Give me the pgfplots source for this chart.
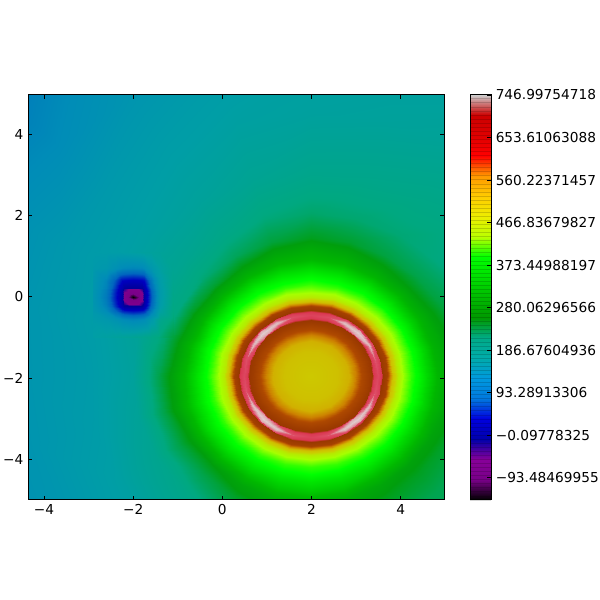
\documentclass[border=0pt]{standalone}
\usepackage{pgfplots}
\usepackage{pgfplotstable}
\usepackage{fontspec}
\setmainfont{DejaVu Sans}
\pgfplotsset{compat=1.18}
\pgfplotsset{
 colormap={mainmap}{
  rgb(0pt)=(0,0,0) rgb(44.5pt)=(.47,0,.53) rgb(89pt)=(.5,0,.55) rgb(133.5pt)=(0,0,.6)
  rgb(178pt)=(0,0,.75) rgb(222.5pt)=(0,.4,.75) rgb(267pt)=(0,.55,.72) rgb(311.5pt)=(0,.62,.65)
  rgb(356pt)=(0,.66,.5) rgb(400.5pt)=(0,.62,.05) rgb(445pt)=(0,.72,0) rgb(489.5pt)=(0,.87,0)
  rgb(534pt)=(0,1,0) rgb(578.5pt)=(.65,1,0) rgb(623pt)=(.8,.8,0) rgb(667.5pt)=(.82,.68,0)
  rgb(712pt)=(.8,.5,0) rgb(756.5pt)=(.7,.3,0) rgb(802.5pt)=(.6,.22,0) rgb(832.5pt)=(.85,.2,.3)
  rgb(862.5pt)=(.87,.3,.4) rgb(877pt)=(.87,.68,.7) rgb(889.5pt)=(.87,.82,.82)},
 colormap={spectral}{
  rgb=(0,0,0) rgb=(.47,0,.53) rgb=(.53,0,.6) rgb=(0,0,.67) rgb=(0,0,.87) rgb=(0,.47,.87)
  rgb=(0,.6,.87) rgb=(0,.67,.67) rgb=(0,.67,.53) rgb=(0,.6,0) rgb=(0,.73,0) rgb=(0,.87,0)
  rgb=(0,1,0) rgb=(.73,1,0) rgb=(.93,.93,0) rgb=(1,.8,0) rgb=(1,.6,0) rgb=(1,0,0)
  rgb=(.87,0,0) rgb=(.8,0,0) rgb=(.8,.8,.8)},
}
\pgfplotstableread{
t r v
0 .01 486
15 .01 486
30 .01 486
45 .01 486
60 .01 486
75 .01 486
90 .01 486
105 .01 486
120 .01 486
135 .01 486
150 .01 486
165 .01 486
180 .01 486
195 .01 486
210 .01 486
225 .01 486
240 .01 486
255 .01 486
270 .01 486
285 .01 486
300 .01 486
315 .01 486
330 .01 486
345 .01 486
360 .01 486
0 .6 498
15 .6 498
30 .6 498
45 .6 498
60 .6 498
75 .6 498
90 .6 498
105 .6 498
120 .6 498
135 .6 498
150 .6 498
165 .6 498
180 .6 498
195 .6 498
210 .6 498
225 .6 498
240 .6 498
255 .6 498
270 .6 498
285 .6 498
300 .6 498
315 .6 498
330 .6 498
345 .6 498
360 .6 498
0 .85 520
15 .85 520
30 .85 520
45 .85 520
60 .85 520
75 .85 520
90 .85 520
105 .85 520
120 .85 520
135 .85 520
150 .85 520
165 .85 520
180 .85 520
195 .85 520
210 .85 520
225 .85 520
240 .85 520
255 .85 520
270 .85 520
285 .85 520
300 .85 520
315 .85 520
330 .85 520
345 .85 520
360 .85 520
0 1 565
15 1 565
30 1 565
45 1 565
60 1 565
75 1 565
90 1 565
105 1 565
120 1 565
135 1 565
150 1 565
165 1 565
180 1 565
195 1 565
210 1 565
225 1 565
240 1 565
255 1 565
270 1 565
285 1 565
300 1 565
315 1 565
330 1 565
345 1 565
360 1 565
0 1.15 625
15 1.15 625
30 1.15 625
45 1.15 625
60 1.15 625
75 1.15 625
90 1.15 625
105 1.15 625
120 1.15 625
135 1.15 625
150 1.15 625
165 1.15 625
180 1.15 625
195 1.15 625
210 1.15 625
225 1.15 625
240 1.15 625
255 1.15 625
270 1.15 625
285 1.15 625
300 1.15 625
315 1.15 625
330 1.15 625
345 1.15 625
360 1.15 625
0 1.3 650
15 1.3 650
30 1.3 650
45 1.3 650
60 1.3 650
75 1.3 650
90 1.3 650
105 1.3 650
120 1.3 650
135 1.3 650
150 1.3 650
165 1.3 650
180 1.3 650
195 1.3 650
210 1.3 650
225 1.3 650
240 1.3 650
255 1.3 650
270 1.3 650
285 1.3 650
300 1.3 650
315 1.3 650
330 1.3 650
345 1.3 650
360 1.3 650
0 1.38 660
15 1.38 660
30 1.38 660
45 1.38 660
60 1.38 660
75 1.38 660
90 1.38 660
105 1.38 660
120 1.38 660
135 1.38 660
150 1.38 660
165 1.38 660
180 1.38 660
195 1.38 660
210 1.38 660
225 1.38 660
240 1.38 660
255 1.38 660
270 1.38 660
285 1.38 660
300 1.38 660
315 1.38 660
330 1.38 660
345 1.38 660
360 1.38 660
0 1.42 697
15 1.42 700
30 1.42 716
45 1.42 732
60 1.42 718
75 1.42 700
90 1.42 697
105 1.42 700
120 1.42 718
135 1.42 732
150 1.42 716
165 1.42 700
180 1.42 697
195 1.42 700
210 1.42 718
225 1.42 732
240 1.42 720
255 1.42 700
270 1.42 697
285 1.42 700
300 1.42 720
315 1.42 732
330 1.42 716
345 1.42 700
360 1.42 697
0 1.5 712
15 1.5 722
30 1.5 738
45 1.5 746
60 1.5 740
75 1.5 718
90 1.5 708
105 1.5 720
120 1.5 740
135 1.5 746
150 1.5 738
165 1.5 720
180 1.5 712
195 1.5 722
210 1.5 740
225 1.5 746
240 1.5 742
255 1.5 722
270 1.5 708
285 1.5 722
300 1.5 742
315 1.5 746
330 1.5 738
345 1.5 720
360 1.5 712
0 1.58 697
15 1.58 700
30 1.58 716
45 1.58 732
60 1.58 718
75 1.58 700
90 1.58 697
105 1.58 700
120 1.58 718
135 1.58 732
150 1.58 716
165 1.58 700
180 1.58 697
195 1.58 700
210 1.58 718
225 1.58 732
240 1.58 720
255 1.58 700
270 1.58 697
285 1.58 700
300 1.58 720
315 1.58 732
330 1.58 716
345 1.58 700
360 1.58 697
0 1.62 660
15 1.62 660
30 1.62 660
45 1.62 660
60 1.62 660
75 1.62 660
90 1.62 660
105 1.62 660
120 1.62 660
135 1.62 660
150 1.62 660
165 1.62 660
180 1.62 660
195 1.62 660
210 1.62 660
225 1.62 660
240 1.62 660
255 1.62 660
270 1.62 660
285 1.62 660
300 1.62 660
315 1.62 660
330 1.62 660
345 1.62 660
360 1.62 660
0 1.72 640
15 1.72 640
30 1.72 640
45 1.72 640
60 1.72 640
75 1.72 640
90 1.72 640
105 1.72 640
120 1.72 640
135 1.72 640
150 1.72 640
165 1.72 640
180 1.72 640
195 1.72 640
210 1.72 640
225 1.72 640
240 1.72 640
255 1.72 640
270 1.72 640
285 1.72 640
300 1.72 640
315 1.72 640
330 1.72 640
345 1.72 640
360 1.72 640
0 1.85 495
15 1.85 495
30 1.85 495
45 1.85 495
60 1.85 495
75 1.85 495
90 1.85 495
105 1.85 495
120 1.85 495
135 1.85 495
150 1.85 495
165 1.85 495
180 1.85 495
195 1.85 495
210 1.85 495
225 1.85 495
240 1.85 495
255 1.85 495
270 1.85 495
285 1.85 495
300 1.85 495
315 1.85 495
330 1.85 495
345 1.85 495
360 1.85 495
0 1.95 455
15 1.95 455
30 1.95 455
45 1.95 455
60 1.95 455
75 1.95 455
90 1.95 455
105 1.95 455
120 1.95 455
135 1.95 455
150 1.95 455
165 1.95 455
180 1.95 455
195 1.95 455
210 1.95 455
225 1.95 455
240 1.95 455
255 1.95 455
270 1.95 455
285 1.95 455
300 1.95 455
315 1.95 455
330 1.95 455
345 1.95 455
360 1.95 455
0 2.1 430
15 2.1 430
30 2.1 430
45 2.1 430
60 2.1 430
75 2.1 430
90 2.1 430
105 2.1 430
120 2.1 430
135 2.1 430
150 2.1 430
165 2.1 430
180 2.1 430
195 2.1 430
210 2.1 430
225 2.1 430
240 2.1 430
255 2.1 430
270 2.1 430
285 2.1 430
300 2.1 430
315 2.1 430
330 2.1 430
345 2.1 430
360 2.1 430
0 2.25 405
15 2.25 405
30 2.25 405
45 2.25 405
60 2.25 405
75 2.25 405
90 2.25 405
105 2.25 405
120 2.25 405
135 2.25 405
150 2.25 405
165 2.25 405
180 2.25 405
195 2.25 405
210 2.25 405
225 2.25 405
240 2.25 405
255 2.25 405
270 2.25 405
285 2.25 405
300 2.25 405
315 2.25 405
330 2.25 405
345 2.25 405
360 2.25 405
0 2.4 385
15 2.4 383
30 2.4 381
45 2.4 380
60 2.4 383
75 2.4 386
90 2.4 388
105 2.4 386
120 2.4 383
135 2.4 380
150 2.4 381
165 2.4 383
180 2.4 385
195 2.4 387
210 2.4 388
225 2.4 388
240 2.4 389
255 2.4 391
270 2.4 392
285 2.4 391
300 2.4 389
315 2.4 388
330 2.4 386
345 2.4 385
360 2.4 385
0 2.6 340
15 2.6 337
30 2.6 335
45 2.6 335
60 2.6 340
75 2.6 346
90 2.6 350
105 2.6 347
120 2.6 340
135 2.6 335
150 2.6 335
165 2.6 338
180 2.6 345
195 2.6 349
210 2.6 350
225 2.6 350
240 2.6 350
255 2.6 352
270 2.6 355
285 2.6 352
300 2.6 348
315 2.6 345
330 2.6 342
345 2.6 340
360 2.6 340
0 2.85 298
15 2.85 292
30 2.85 290
45 2.85 290
60 2.85 296
75 2.85 302
90 2.85 306
105 2.85 301
120 2.85 293
135 2.85 285
150 2.85 285
165 2.85 292
180 2.85 302
195 2.85 307
210 2.85 306
225 2.85 305
240 2.85 310
255 2.85 318
270 2.85 322
285 2.85 318
300 2.85 310
315 2.85 305
330 2.85 302
345 2.85 299
360 2.85 298
0 3.1 280
15 3.1 270
30 3.1 262
45 3.1 258
60 3.1 265
75 3.1 275
90 3.1 282
105 3.1 272
120 3.1 258
135 3.1 245
150 3.1 248
165 3.1 255
180 3.1 265
195 3.1 268
210 3.1 262
225 3.1 258
240 3.1 272
255 3.1 280
270 3.1 282
285 3.1 280
300 3.1 272
315 3.1 265
330 3.1 266
345 3.1 272
360 3.1 280
0 3.4 268
15 3.4 250
30 3.4 240
45 3.4 235
60 3.4 238
75 3.4 245
90 3.4 252
105 3.4 240
120 3.4 228
135 3.4 218
150 3.4 212
165 3.4 222
180 3.4 235
195 3.4 235
210 3.4 235
225 3.4 235
240 3.4 248
255 3.4 260
270 3.4 265
285 3.4 260
300 3.4 254
315 3.4 250
330 3.4 248
345 3.4 255
360 3.4 268
0 4 250
15 4 232
30 4 220
45 4 214
60 4 218
75 4 220
90 4 222
105 4 216
120 4 204
135 4 195
150 4 190
165 4 186
180 4 180
195 4 186
210 4 196
225 4 205
240 4 222
255 4 238
270 4 245
285 4 242
300 4 235
315 4 232
330 4 234
345 4 242
360 4 250
0 5 230
15 5 220
30 5 214
45 5 210
60 5 206
75 5 202
90 5 200
105 5 192
120 5 182
135 5 175
150 5 171
165 5 166
180 5 160
195 5 163
210 5 172
225 5 180
240 5 196
255 5 215
270 5 225
285 5 225
300 5 225
315 5 225
330 5 226
345 5 229
360 5 230
0 6.5 225
15 6.5 212
30 6.5 202
45 6.5 195
60 6.5 188
75 6.5 182
90 6.5 178
105 6.5 174
120 6.5 165
135 6.5 155
150 6.5 151
165 6.5 148
180 6.5 145
195 6.5 145
210 6.5 147
225 6.5 150
240 6.5 170
255 6.5 200
270 6.5 215
285 6.5 218
300 6.5 220
315 6.5 220
330 6.5 222
345 6.5 224
360 6.5 225
0 8 220
15 8 206
30 8 194
45 8 185
60 8 178
75 8 173
90 8 170
105 8 160
120 8 145
135 8 125
150 8 128
165 8 130
180 8 130
195 8 130
210 8 132
225 8 135
240 8 155
255 8 190
270 8 210
285 8 213
300 8 215
315 8 215
330 8 218
345 8 220
360 8 220
0 10.5 215
15 10.5 200
30 10.5 188
45 10.5 180
60 10.5 173
75 10.5 165
90 10.5 160
105 10.5 147
120 10.5 120
135 10.5 92
150 10.5 105
165 10.5 115
180 10.5 120
195 10.5 120
210 10.5 122
225 10.5 125
240 10.5 145
255 10.5 180
270 10.5 205
285 10.5 208
300 10.5 212
315 10.5 215
330 10.5 215
345 10.5 215
360 10.5 215
}\ringtable
\pgfplotstableread{
x y v
-2.9 -1 170
-2.6 -1 175
-2.4 -1 180
-2.24 -1 184
-2.2 -1 185
-2.1 -1 187
-2 -1 190
-1.9 -1 193
-1.8 -1 196
-1.76 -1 198
-1.6 -1 205
-1.4 -1 217
-1.1 -1 240
-2.9 -.55 160
-2.6 -.55 152
-2.4 -.55 140
-2.24 -.55 125
-2.2 -.55 122
-2.1 -.55 118
-2 -.55 115
-1.9 -.55 118
-1.8 -.55 122
-1.76 -.55 125
-1.6 -.55 155
-1.4 -.55 198
-1.1 -.55 218
-2.9 -.35 152
-2.6 -.35 125
-2.4 -.35 85
-2.24 -.35 55
-2.2 -.35 50
-2.1 -.35 45
-2 -.35 42
-1.9 -.35 45
-1.8 -.35 50
-1.76 -.35 55
-1.6 -.35 105
-1.4 -.35 175
-1.1 -.35 212
-2.9 -.22 150
-2.6 -.22 112
-2.4 -.22 60
-2.24 -.22 15
-2.2 -.22 -5
-2.1 -.22 -8
-2 -.22 -10
-1.9 -.22 -8
-1.8 -.22 -5
-1.76 -.22 15
-1.6 -.22 85
-1.4 -.22 165
-1.1 -.22 210
-2.9 -.18 148
-2.6 -.18 108
-2.4 -.18 55
-2.24 -.18 10
-2.2 -.18 -20
-2.1 -.18 -58
-2 -.18 -60
-1.9 -.18 -58
-1.8 -.18 -20
-1.76 -.18 10
-1.6 -.18 80
-1.4 -.18 162
-1.1 -.18 209
-2.9 -.08 147
-2.6 -.08 105
-2.4 -.08 50
-2.24 -.08 5
-2.2 -.08 -58
-2.1 -.08 -80
-2 -.08 -90
-1.9 -.08 -80
-1.8 -.08 -58
-1.76 -.08 5
-1.6 -.08 75
-1.4 -.08 160
-1.1 -.08 207
-2.9 0 147
-2.6 0 102
-2.4 0 48
-2.24 0 5
-2.2 0 -60
-2.1 0 -105
-2 0 -142
-1.9 0 -105
-1.8 0 -60
-1.76 0 5
-1.6 0 72
-1.4 0 158
-1.1 0 205
-2.9 .08 147
-2.6 .08 105
-2.4 .08 50
-2.24 .08 5
-2.2 .08 -58
-2.1 .08 -80
-2 .08 -90
-1.9 .08 -80
-1.8 .08 -58
-1.76 .08 5
-1.6 .08 75
-1.4 .08 158
-1.1 .08 204
-2.9 .18 148
-2.6 .18 108
-2.4 .18 55
-2.24 .18 10
-2.2 .18 -20
-2.1 .18 -58
-2 .18 -60
-1.9 .18 -58
-1.8 .18 -20
-1.76 .18 10
-1.6 .18 80
-1.4 .18 158
-1.1 .18 202
-2.9 .22 150
-2.6 .22 112
-2.4 .22 60
-2.24 .22 15
-2.2 .22 -5
-2.1 .22 -8
-2 .22 -10
-1.9 .22 -8
-1.8 .22 -5
-1.76 .22 15
-1.6 .22 85
-1.4 .22 160
-1.1 .22 201
-2.9 .4 150
-2.6 .4 118
-2.4 .4 75
-2.24 .4 40
-2.2 .4 38
-2.1 .4 35
-2 .4 33
-1.9 .4 35
-1.8 .4 38
-1.76 .4 42
-1.6 .4 100
-1.4 .4 165
-1.1 .4 197
-2.9 .7 157
-2.6 .7 152
-2.4 .7 135
-2.24 .7 122
-2.2 .7 120
-2.1 .7 118
-2 .7 116
-1.9 .7 118
-1.8 .7 120
-1.76 .7 125
-1.6 .7 150
-1.4 .7 175
-1.1 .7 193
-2.9 1.1 162
-2.6 1.1 164
-2.4 1.1 166
-2.24 1.1 168
-2.2 1.1 169
-2.1 1.1 171
-2 1.1 173
-1.9 1.1 175
-1.8 1.1 177
-1.76 1.1 178
-1.6 1.1 180
-1.4 1.1 184
-1.1 1.1 188
}\spottable
\begin{document}
\fontsize{13.7bp}{16bp}\selectfont
\begin{tikzpicture}
\path[use as bounding box] (0bp,0bp) rectangle (600bp,600bp);
\begin{axis}[
 at={(28bp,100bp)},anchor=south west,scale only axis,width=416bp,height=405bp,
 xmin=-4.357,xmax=4.97,ymin=-5,ymax=4.96,
 xtick={-4,-2,0,2,4},xticklabels={−4,−2,0,2,4},
 ytick={-4,-2,0,2,4},yticklabels={−4,−2,0,2,4},
 tick align=inside,major tick length=4bp,
 tick style={black,line width=.6bp},axis line style={black,line width=1bp},
 tick label style={font=\fontsize{13.7bp}{16bp}\selectfont},
 axis on top,colormap name=mainmap,point meta min=-142.5,point meta max=747,
 enlargelimits=false,
]
\addplot[surf,shader=interp,point meta=explicit,mesh/rows=26,mesh/cols=25,mesh/ordering=x varies]
 table[x expr={1.98+\thisrow{r}*cos(\thisrow{t})},y expr={-1.95+\thisrow{r}*sin(\thisrow{t})},meta=v]{\ringtable};
\addplot[surf,shader=interp,point meta=explicit,mesh/rows=13,mesh/cols=13]
 table[x=x,y=y,meta=v]{\spottable};
\end{axis}
\begin{axis}[
 at={(470bp,100bp)},anchor=south west,scale only axis,width=21bp,height=405bp,
 xmin=0,xmax=1,ymin=-142.5,ymax=747,xtick=\empty,
 ytick={-93.48469955,-0.09778325,93.28913306,186.67604936,280.06296566,373.44988197,466.83679827,560.22371457,653.61063088,746.99754718},
 yticklabels={−93.48469955,−0.09778325,93.28913306,186.67604936,280.06296566,373.44988197,466.83679827,560.22371457,653.61063088,746.99754718},
 yticklabel pos=right,ytick pos=right,tick align=inside,major tick length=4bp,
 tick style={black,line width=.6bp},axis line style={black,line width=1bp},
 tick label style={font=\fontsize{13.7bp}{16bp}\selectfont},
 minor ytick={-142.5,-133.6,...,747},minor tick length=0pt,
 grid=minor,minor grid style={black,opacity=.16,line width=.8bp},
 axis on top,colormap name=spectral,point meta min=-142.5,point meta max=747,
 enlargelimits=false,
]
\addplot[surf,shader=interp,point meta=y,mesh/rows=2,mesh/cols=2] table[x=x,y=y]{
x y
0 -142.5
1 -142.5
0 747
1 747
};
\end{axis}
\end{tikzpicture}
\end{document}
